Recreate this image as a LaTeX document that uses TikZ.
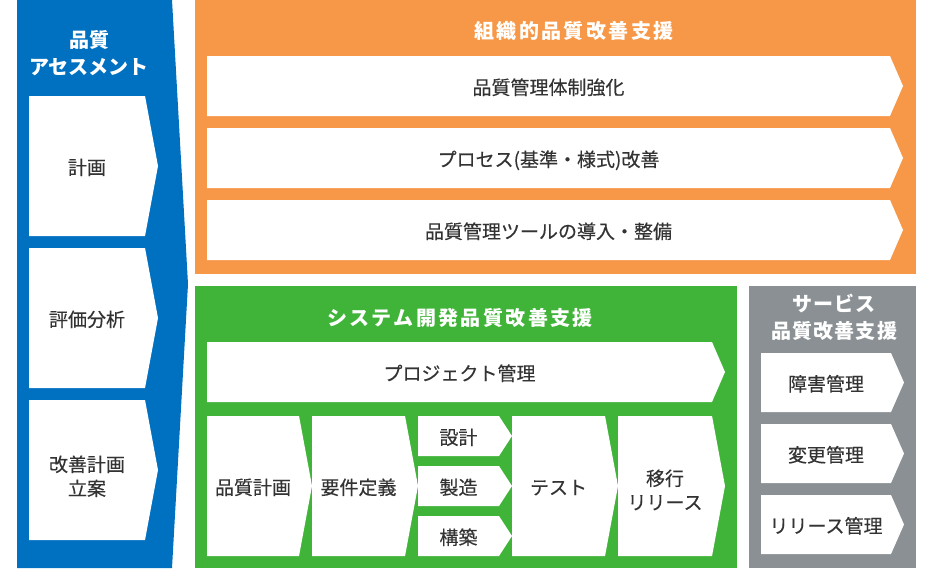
\documentclass[tikz,border=0pt]{standalone}
\usepackage{fontspec}
\setmainfont{Noto Sans CJK JP}
\newfontfamily\wideft{Noto Sans CJK JP}[LetterSpace=12]
\newfontfamily\midft{Noto Sans CJK JP}[LetterSpace=6]
\newfontfamily\bodyft{Noto Sans CJK JP}[BoldFont={Noto Sans CJK JP},BoldFeatures={FakeBold=0.3}]
\usepackage{xcolor}
\usetikzlibrary{shapes.symbols,positioning}
\definecolor{asmblue}{RGB}{0,112,192}
\definecolor{orgorange}{RGB}{247,152,72}
\definecolor{sysgreen}{RGB}{64,180,56}
\definecolor{svcgray}{RGB}{138,144,147}
\definecolor{txtgray}{RGB}{51,51,51}
\tikzstyle{panel} = [rectangle,inner sep=0pt,outer sep=0pt,anchor=north west]
\tikzstyle{ttl} = [text=white,align=center,font=\fontsize{20}{27}\selectfont\bfseries]
\tikzstyle{stepbox} = [signal,signal to=east,fill=white,text=txtgray,inner sep=0pt,outer sep=0pt,align=center,text height=19pt,text depth=2pt,font=\fontsize{19}{24}\selectfont\bodyft\bfseries]

\begin{document}
\begin{tikzpicture}[x=1pt,y=-1pt,
    tall/.style = {stepbox,minimum height=140pt,signal pointer angle=159},
    bar/.style = {stepbox,minimum height=60pt,signal pointer angle=133.1},
    small/.style = {stepbox,minimum height=40pt,signal pointer angle=114},
    svcbar/.style = {stepbox,minimum height=59pt,signal pointer angle=132.4,minimum width=143pt}]
    \useasboundingbox (0,0) rectangle (933,568);
    % We start by placing the panels
    \node [signal,signal to=east,fill=asmblue,inner sep=0pt,outer sep=0pt,minimum width=171pt,minimum height=568pt,signal pointer angle=173.55,anchor=west] (asm) at (17,284) {};
    \node [panel,fill=orgorange,minimum width=721pt,minimum height=274pt] (org) at (195,0) {};
    \node [panel,fill=sysgreen,minimum width=542pt,minimum height=282pt] (sys) at (195,286) {};
    \node [panel,fill=svcgray,minimum width=167pt,minimum height=282pt] (svc) at (749,286) {};

    % panel titles
    \node [ttl] (asmT) at (89,53) {品質\\アセスメント};
    \node [ttl,font=\fontsize{20}{27}\selectfont\wideft\bfseries] (orgT) at (574,31) {組織的品質改善支援};
    \node [ttl,font=\fontsize{20}{27}\selectfont\wideft\bfseries] (sysT) at (460,318) {システム開発品質改善支援};
    \node [ttl,font=\fontsize{20}{27}\selectfont\midft\bfseries] (svcT) at (834,317.5) {サービス\\品質改善支援};

    % assessment steps
    \node [tall,minimum width=129pt,anchor=west] (plan) at (29,166) {計画};
    \node [tall,minimum width=129pt,below=12pt of plan] (eval) {評価分析};
    \node [tall,minimum width=129pt,below=12pt of eval,text height=53pt] (prop) {改善計画\\立案};

    % organisation bars
    \node [bar,minimum width=696pt,anchor=west] (orgA) at (207,86) {品質管理体制強化};
    \node [bar,minimum width=696pt,below=12pt of orgA] (orgB) {プロセス(基準・様式)改善};
    \node [bar,minimum width=696pt,below=12pt of orgB] (orgC) {品質管理ツールの導入・整備};

    % system development flow
    \node [bar,minimum width=518pt,anchor=west] (proj) at (207,372) {プロジェクト管理};
    \node [tall,minimum width=105pt,anchor=west] (qplan) at (207,486) {品質計画};
    \node [tall,minimum width=106pt,right=0pt of qplan] (req) {要件定義};
    \node [small,minimum width=94pt,anchor=west] (design) at (418,436) {設計};
    \node [small,minimum width=94pt,below=10pt of design] (build) {製造};
    \node [small,minimum width=94pt,below=10pt of build] (constr) {構築};
    \node [tall,minimum width=106pt,right=0pt of build] (test) {テスト};
    \node [tall,minimum width=107pt,right=0pt of test,text height=49pt] (migr) {移行\\リリース};

    % service bars
    \node [svcbar,anchor=west] (incid) at (761,382.5) {障害管理};
    \node [svcbar,below=12pt of incid] (chg) {変更管理};
    \node [svcbar,below=12pt of chg] (rel) {リリース管理};
\end{tikzpicture}
\end{document}
